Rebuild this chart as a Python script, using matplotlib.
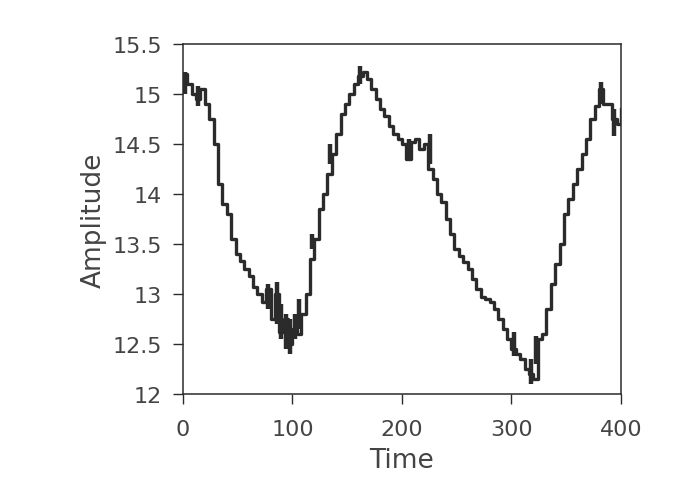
import matplotlib
matplotlib.use("Agg")
import matplotlib.pyplot as plt

INK = "#2b2b2b"
TXT = "#444444"

# time samples and amplitude
time = list(range(0, 401, 4))
amplitude = [
    15.20, 15.10, 15.00, 14.95, 15.05, 14.90, 14.75, 14.50, 14.10, 13.90,
    13.80, 13.55, 13.40, 13.33, 13.25, 13.18, 13.07, 13.00, 12.92, 13.05,
    12.75, 13.00, 12.62, 12.75, 12.50, 12.65, 12.60, 12.80, 13.00, 13.35,
    13.55, 13.85, 14.00, 14.20, 14.40, 14.60, 14.80, 14.90, 15.00, 15.10,
    15.18, 15.22, 15.15, 15.05, 14.95, 14.85, 14.78, 14.68, 14.60, 14.55,
    14.50, 14.35, 14.52, 14.55, 14.45, 14.50, 14.25, 14.15, 14.00, 13.92,
    13.75, 13.60, 13.45, 13.38, 13.32, 13.25, 13.15, 13.05, 12.97, 12.95,
    12.92, 12.85, 12.75, 12.65, 12.55, 12.45, 12.40, 12.35, 12.25, 12.20,
    12.15, 12.55, 12.60, 12.85, 13.10, 13.30, 13.50, 13.80, 13.95, 14.10,
    14.25, 14.40, 14.55, 14.75, 14.88, 15.05, 14.90, 14.90, 14.75, 14.70,
    14.85,
]

# short bursts of fast jitter visible as thick blocks in the scan
jitter_t = [2, 14, 78, 86, 90, 94, 98, 102, 106, 118, 134, 162, 206, 226,
            302, 318, 322, 382, 394]
jitter_lo = [15.00, 14.88, 12.85, 12.70, 12.55, 12.45, 12.40, 12.55, 12.65,
             13.45, 14.30, 15.10, 14.35, 14.30, 12.38, 12.10, 12.30, 14.90,
             14.58]
jitter_hi = [15.22, 15.08, 13.10, 13.12, 12.90, 12.80, 12.75, 12.80, 12.95,
             13.60, 14.50, 15.28, 14.55, 14.60, 12.62, 12.35, 12.58, 15.12,
             14.85]

fig = plt.figure(figsize=(6.93, 4.89), dpi=100)
ax = fig.add_axes([0.264, 0.192, 0.632, 0.716])

ax.step(time, amplitude, where="post", color=INK, lw=2.4)
ax.vlines(jitter_t, jitter_lo, jitter_hi, color=INK, lw=3.2)

ax.set_xlim(0, 400)
ax.set_ylim(12, 15.5)
ax.set_xticks([0, 100, 200, 300, 400])
ax.set_yticks([12, 12.5, 13, 13.5, 14, 14.5, 15, 15.5])
ax.set_yticklabels(["12", "12.5", "13", "13.5", "14", "14.5", "15", "15.5"])

for s in ax.spines.values():
    s.set_color(INK)
    s.set_linewidth(1.1)

ax.tick_params(axis="both", direction="out", length=7, width=1.0,
               color=INK, labelcolor=TXT, labelsize=16)
ax.tick_params(axis="x", pad=11)
ax.tick_params(axis="y", pad=8)
ax.set_xlabel("Time", fontsize=19, color=TXT, labelpad=6)
ax.set_ylabel("Amplitude", fontsize=19, color=TXT, labelpad=4)

fig.savefig("out.png", dpi=100)
